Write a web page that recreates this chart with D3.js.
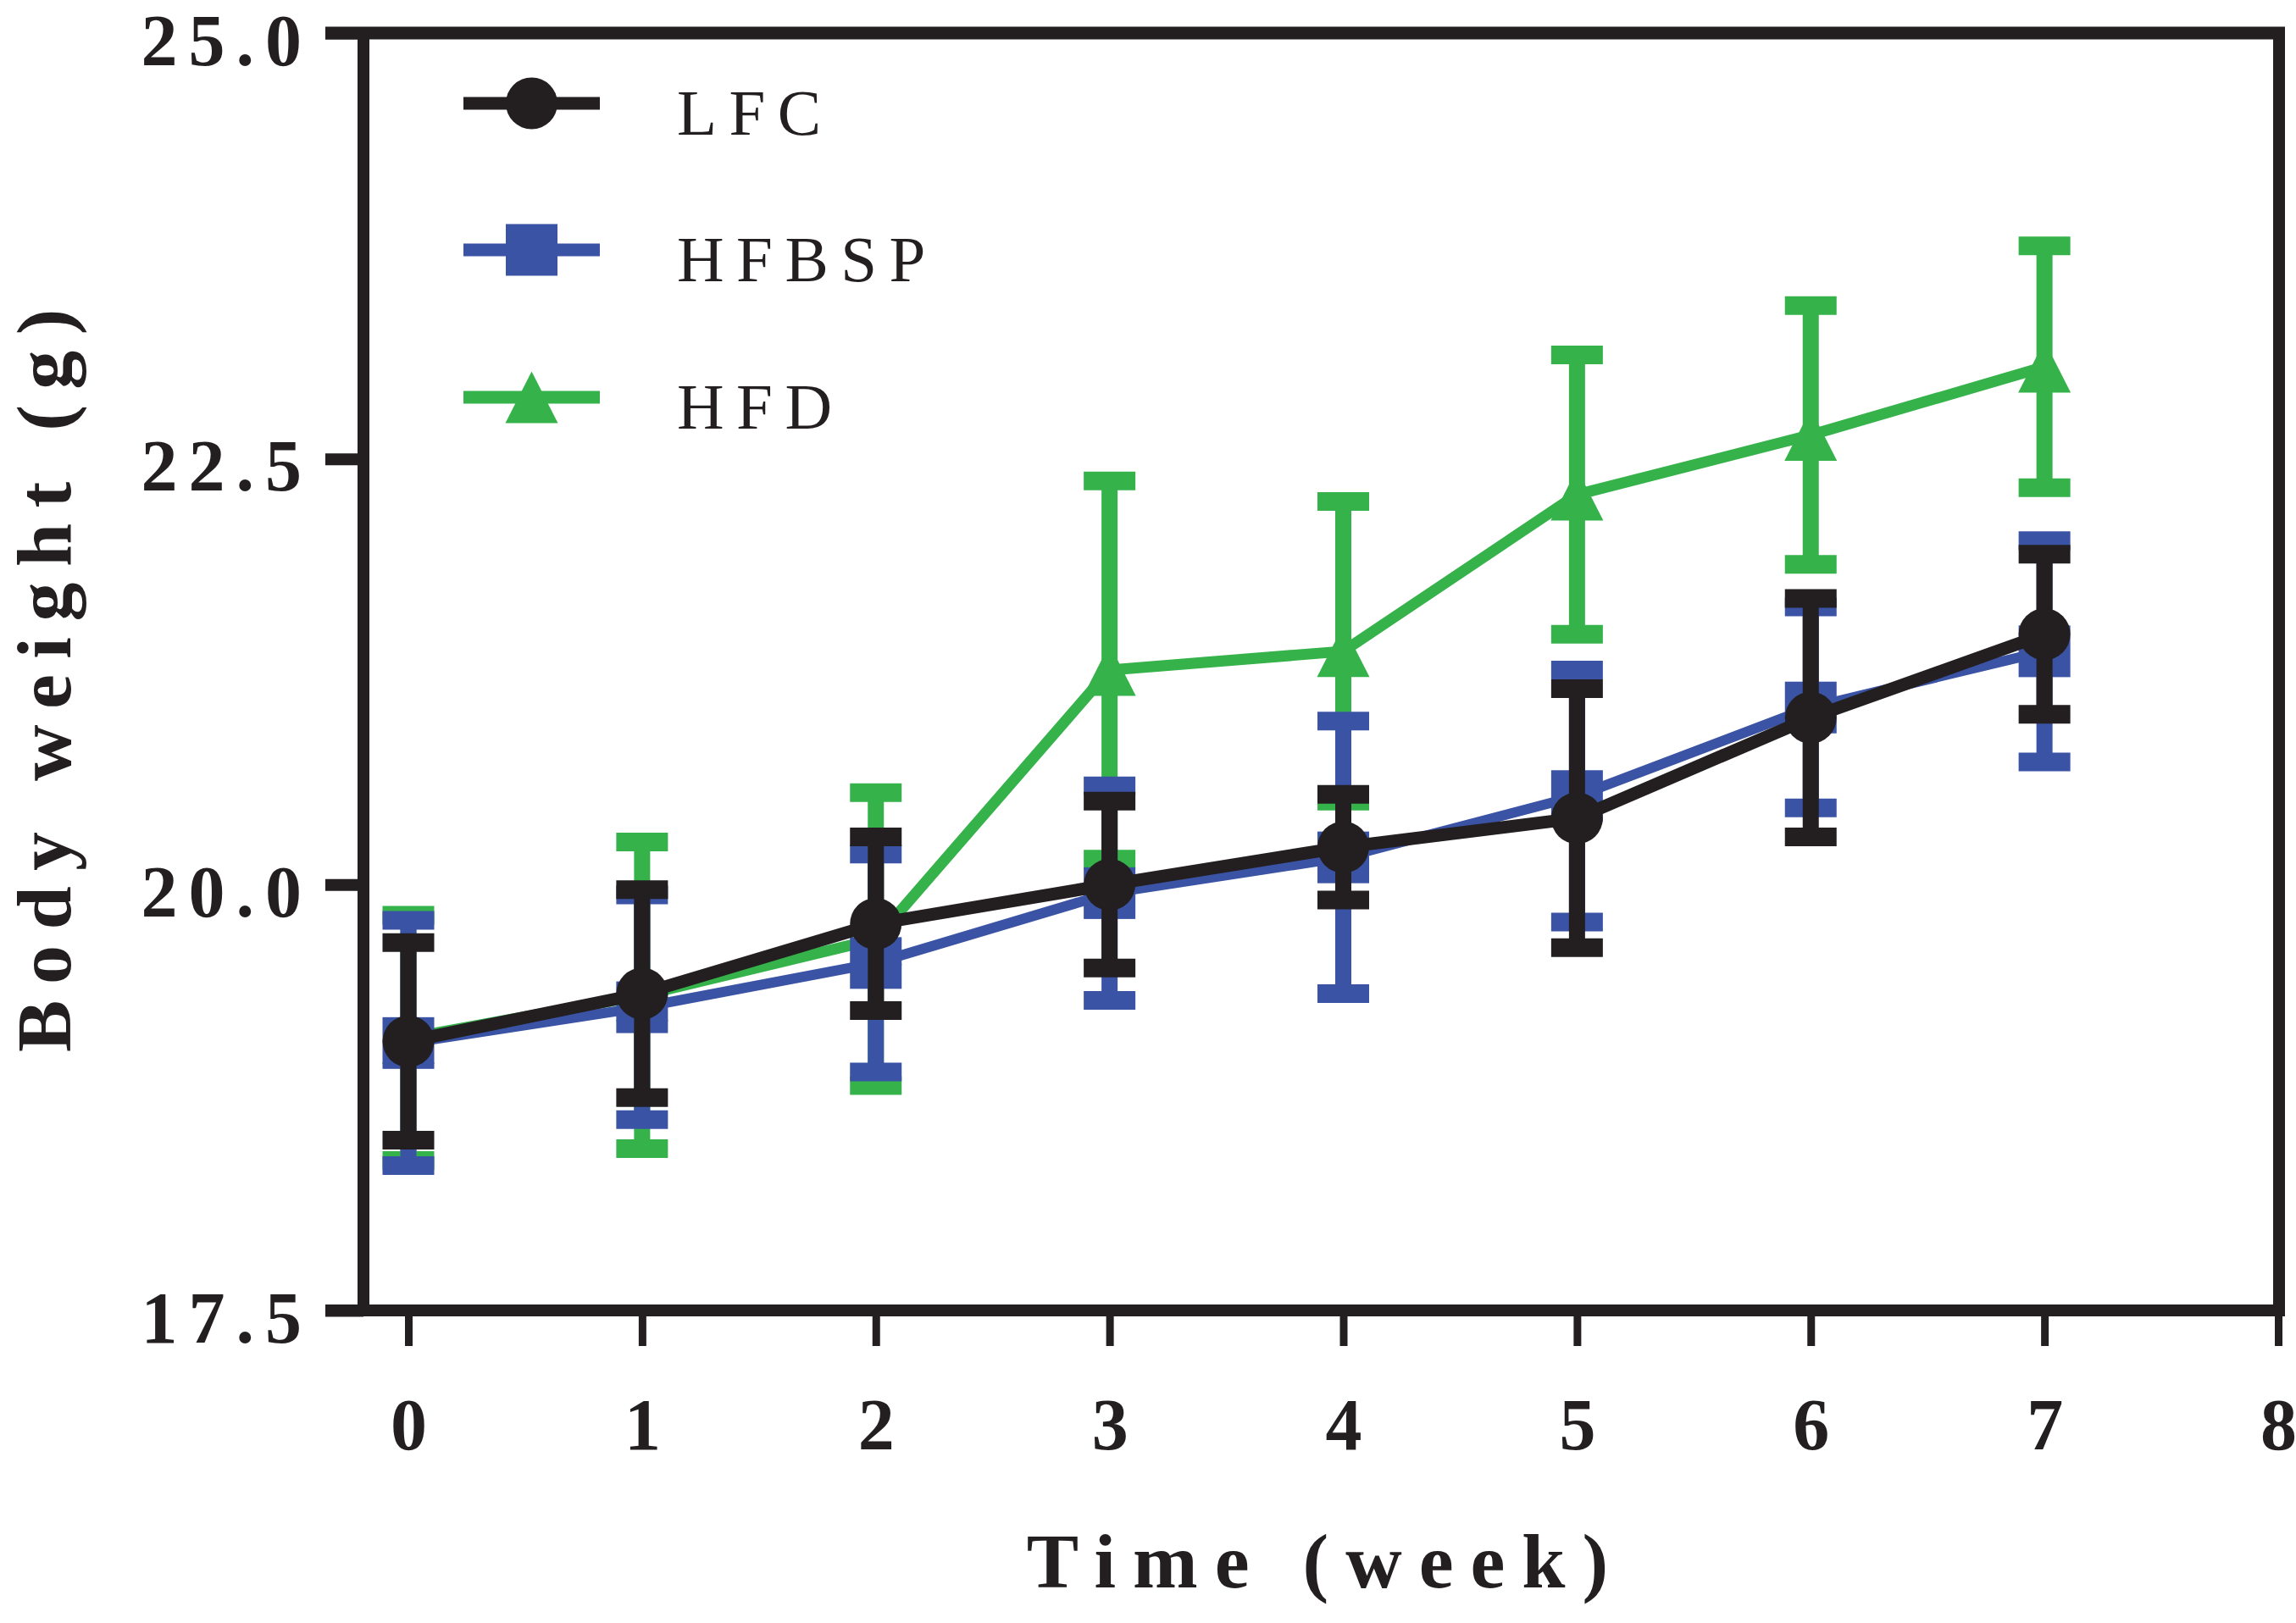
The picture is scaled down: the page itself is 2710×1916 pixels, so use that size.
<!DOCTYPE html>
<html>
<head>
<meta charset="utf-8">
<script src="https://cdn.jsdelivr.net/npm/d3@7"></script>
<style>
  body { margin: 0; background: #fff; }
  text { font-family: "Liberation Serif", "Times New Roman", serif; fill: #231f20; }
</style>
</head>
<body>
<div id="container"></div>
<script>
/* DATA */
const weeks = [0, 1, 2, 3, 4, 5, 6, 7];

const lfcMean   = [19.08, 19.36, 19.77, 20.00, 20.22, 20.39, 20.98, 21.47];
const lfcSem    = [0.58, 0.61, 0.51, 0.49, 0.31, 0.76, 0.70, 0.47];
const hfbspMean = [19.07, 19.28, 19.54, 19.95, 20.16, 20.52, 21.04, 21.37];
const hfbspSem  = [0.72, 0.66, 0.64, 0.63, 0.80, 0.74, 0.59, 0.65];
const hfdMean   = [19.10, 19.35, 19.68, 21.26, 21.37, 22.29, 22.64, 23.04];
const hfdSem    = [0.72, 0.90, 0.86, 1.11, 0.88, 0.82, 0.76, 0.71];

const groups = ["LFC", "HFBSP", "HFD"];
const xTicks = [0, 1, 2, 3, 4, 5, 6, 7, 8];
const yTicks = [17.5, 20.0, 22.5, 25.0];

/* CONSTANTS AND GLOBALS */
const width = 2710,
  height = 1916,
  ink = "#231f20",
  frameLeft = 429,
  frameRight = 2690,
  tickLeft = 384;

const series = [
  { name: "HFD",   mean: hfdMean,   sem: hfdSem,   color: "#35b34a", shape: "triangle", lw: 13 },
  { name: "HFBSP", mean: hfbspMean, sem: hfbspSem, color: "#3a53a4", shape: "square",   lw: 12 },
  { name: "LFC",   mean: lfcMean,   sem: lfcSem,   color: ink,       shape: "circle",   lw: 15 }
];

/* SCALES */
const xScale = d3.scaleLinear()
  .domain([0, 8])
  .range([482, 2689]);

const yScale = d3.scaleLinear()
  .domain([17.5, 25])
  .range([1547, 39]);

/* SVG */
const svg = d3.select("#container")
  .append("svg")
  .attr("width", width)
  .attr("height", height);

// marker drawer
const drawMarker = (g, shape, color) => {
  if (shape === "circle") {
    g.append("circle").attr("r", 30.5).attr("fill", color);
  } else if (shape === "square") {
    g.append("rect").attr("x", -30.5).attr("y", -30.5)
      .attr("width", 61).attr("height", 61).attr("fill", color);
  } else {
    g.append("path").attr("d", "M0,-30.5L31,30.5L-31,30.5Z").attr("fill", color);
  }
};

/* AXES */
const yAxis = d3.axisLeft(yScale)
  .tickValues(yTicks)
  .tickFormat(d3.format(".1f"))
  .tickSize(frameLeft - tickLeft);

const yG = svg.append("g")
  .attr("transform", `translate(${frameLeft}, 0)`)
  .call(yAxis);
yG.select(".domain").remove();
yG.selectAll(".tick line").attr("stroke", ink).attr("stroke-width", 14);
yG.selectAll(".tick text")
  .attr("x", -60)
  .attr("dy", 37)
  .attr("fill", ink)
  .style("font-family", "'Liberation Serif', serif")
  .style("font-size", "86px")
  .style("font-weight", "bold")
  .style("letter-spacing", "13px");

const xAxis = d3.axisBottom(xScale)
  .tickValues(xTicks)
  .tickFormat(d3.format("d"))
  .tickSize(42);

const xG = svg.append("g")
  .attr("transform", `translate(0, ${yScale(17.5)})`)
  .call(xAxis);
xG.select(".domain").remove();
xG.selectAll(".tick line").attr("stroke", ink).attr("stroke-width", 9);
xG.selectAll(".tick text")
  .attr("y", 164)
  .attr("dy", 0)
  .attr("fill", ink)
  .style("font-family", "'Liberation Serif', serif")
  .style("font-size", "86px")
  .style("font-weight", "bold");

// frame
const frame = svg.append("g").attr("stroke", ink).attr("fill", "none");
frame.append("line")
  .attr("x1", tickLeft).attr("x2", frameRight + 7)
  .attr("y1", yScale(25)).attr("y2", yScale(25))
  .attr("stroke-width", 15);
frame.append("line")
  .attr("x1", tickLeft).attr("x2", frameRight + 7)
  .attr("y1", yScale(17.5)).attr("y2", yScale(17.5))
  .attr("stroke-width", 14);
frame.append("line")
  .attr("x1", frameLeft).attr("x2", frameLeft)
  .attr("y1", yScale(25) - 7).attr("y2", yScale(17.5) + 7)
  .attr("stroke-width", 14);
frame.append("line")
  .attr("x1", frameRight).attr("x2", frameRight)
  .attr("y1", yScale(25) - 7).attr("y2", yScale(17.5) + 7)
  .attr("stroke-width", 14);

/* DRAW SERIES */
const line = d3.line()
  .x(d => xScale(d.week))
  .y(d => yScale(d.mean));

series.forEach(s => {
  const pts = weeks.map((w, i) => ({ week: w, mean: s.mean[i], sem: s.sem[i] }));
  const g = svg.append("g").attr("class", "series-" + s.name);

  // error bars
  const bars = g.selectAll(".err")
    .data(pts)
    .join("g")
    .attr("class", "err")
    .attr("stroke", s.color);
  bars.append("line")
    .attr("x1", d => xScale(d.week)).attr("x2", d => xScale(d.week))
    .attr("y1", d => yScale(d.mean + d.sem)).attr("y2", d => yScale(d.mean - d.sem))
    .attr("stroke-width", 19);
  [1, -1].forEach(sign => {
    bars.append("line")
      .attr("x1", d => xScale(d.week) - 30.5).attr("x2", d => xScale(d.week) + 30.5)
      .attr("y1", d => yScale(d.mean + sign * d.sem))
      .attr("y2", d => yScale(d.mean + sign * d.sem))
      .attr("stroke-width", 22);
  });

  // connecting line
  g.append("path")
    .datum(pts)
    .attr("d", line)
    .attr("fill", "none")
    .attr("stroke", s.color)
    .attr("stroke-width", s.lw)
    .attr("stroke-linejoin", "round");

  // markers
  g.selectAll(".pt")
    .data(pts)
    .join("g")
    .attr("class", "pt")
    .attr("transform", d => `translate(${xScale(d.week)}, ${yScale(d.mean)})`)
    .each(function () { drawMarker(d3.select(this), s.shape, s.color); });
});

/* LEGEND */
const legendY = [122, 295, 469];
const legend = svg.append("g");
groups.forEach((name, i) => {
  const s = series.find(d => d.name === name);
  const item = legend.append("g").attr("transform", `translate(0, ${legendY[i]})`);
  item.append("line")
    .attr("x1", 547).attr("x2", 708)
    .attr("stroke", s.color).attr("stroke-width", 15);
  drawMarker(item.append("g").attr("transform", "translate(627.5, 0)"), s.shape, s.color);
  item.append("text")
    .attr("x", 799)
    .attr("y", 37)
    .style("font-size", "77px")
    .style("letter-spacing", "14.5px")
    .text(name);
});

/* AXIS TITLES */
svg.append("text")
  .attr("transform", "translate(83, 794) rotate(-90)")
  .attr("text-anchor", "middle")
  .style("font-size", "92px")
  .style("font-weight", "bold")
  .style("letter-spacing", "18.5px")
  .text("Body weight (g)");

svg.append("text")
  .attr("x", 1565)
  .attr("y", 1874)
  .attr("text-anchor", "middle")
  .style("font-size", "92px")
  .style("font-weight", "bold")
  .style("letter-spacing", "20px")
  .text("Time (week)");
</script>
</body>
</html>
